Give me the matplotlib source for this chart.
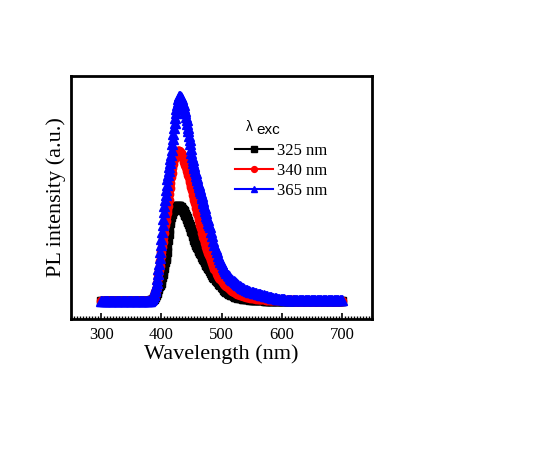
import numpy as np
import matplotlib
matplotlib.use("Agg")
import matplotlib.pyplot as plt
from matplotlib.ticker import MultipleLocator

# longueurs d'onde (nm) : pas de 2 nm sur la ligne de base, 1 nm autour du pic
longueurs = np.concatenate([np.arange(300, 380, 2),
                            np.arange(380, 481, 1),
                            np.arange(482, 701, 2)])

# intensites (u.a., pic bleu ~ 1)
base = [0.0] * 40  # 300 -> 378 nm

pic_325 = [
    0.000, 0.001, 0.002, 0.003, 0.004, 0.006, 0.008, 0.011, 0.014, 0.018,
    0.023, 0.030, 0.040, 0.050, 0.060, 0.068, 0.075, 0.080, 0.084, 0.088,
    0.100, 0.115, 0.130, 0.145, 0.160, 0.175, 0.190, 0.202, 0.214, 0.240,
    0.265, 0.295, 0.325, 0.352, 0.379, 0.395, 0.410, 0.420, 0.430, 0.437,
    0.443, 0.448, 0.452, 0.455, 0.457, 0.459, 0.460, 0.461, 0.461, 0.461,
    0.460, 0.458, 0.455, 0.452, 0.448, 0.444, 0.440, 0.435, 0.430, 0.424,
    0.418, 0.412, 0.405, 0.398, 0.390, 0.382, 0.374, 0.366, 0.358, 0.350,
    0.342, 0.333, 0.324, 0.315, 0.305, 0.294, 0.286, 0.279, 0.273, 0.267,
    0.262, 0.256, 0.250, 0.245, 0.239, 0.233, 0.227, 0.222, 0.216, 0.211,
    0.205, 0.199, 0.193, 0.188, 0.182, 0.176, 0.170, 0.165, 0.159, 0.154,
    0.148,
]
queue_325 = [
    0.136, 0.126, 0.118, 0.110, 0.104, 0.097, 0.091, 0.084, 0.076, 0.068,
    0.062, 0.055, 0.050, 0.045, 0.040, 0.036, 0.033, 0.030, 0.027, 0.024,
    0.022, 0.020, 0.018, 0.016, 0.015, 0.014, 0.013, 0.012, 0.011, 0.010,
    0.009, 0.008, 0.008, 0.007, 0.006, 0.006, 0.005, 0.005, 0.004, 0.004,
    0.004, 0.003, 0.003, 0.003, 0.003, 0.002, 0.002, 0.002, 0.002, 0.002,
    0.002, 0.001, 0.001, 0.001, 0.001, 0.001, 0.001, 0.001, 0.001, 0.001,
] + [0.001] * 10 + [0.0] * 40

pic_340 = [
    0.000, 0.001, 0.002, 0.004, 0.006, 0.009, 0.013, 0.018, 0.024, 0.032,
    0.042, 0.055, 0.070, 0.090, 0.110, 0.130, 0.150, 0.172, 0.195, 0.218,
    0.240, 0.262, 0.285, 0.307, 0.330, 0.350, 0.370, 0.390, 0.410, 0.427,
    0.444, 0.460, 0.490, 0.520, 0.550, 0.575, 0.600, 0.623, 0.645, 0.663,
    0.680, 0.690, 0.700, 0.708, 0.715, 0.720, 0.725, 0.727, 0.728, 0.728,
    0.727, 0.724, 0.720, 0.715, 0.709, 0.702, 0.695, 0.686, 0.677, 0.668,
    0.659, 0.650, 0.640, 0.630, 0.620, 0.610, 0.600, 0.588, 0.576, 0.564,
    0.552, 0.540, 0.528, 0.515, 0.502, 0.490, 0.478, 0.465, 0.452, 0.440,
    0.428, 0.416, 0.404, 0.392, 0.380, 0.368, 0.356, 0.344, 0.332, 0.321,
    0.310, 0.300, 0.290, 0.280, 0.270, 0.260, 0.250, 0.241, 0.232, 0.223,
    0.214,
]
queue_340 = [
    0.198, 0.183, 0.169, 0.156, 0.144, 0.133, 0.123, 0.114, 0.106, 0.099,
    0.092, 0.085, 0.079, 0.073, 0.067, 0.062, 0.057, 0.053, 0.049, 0.045,
    0.042, 0.039, 0.036, 0.033, 0.031, 0.029, 0.027, 0.025, 0.023, 0.022,
    0.020, 0.019, 0.018, 0.017, 0.016, 0.015, 0.014, 0.013, 0.012, 0.011,
    0.010, 0.010, 0.009, 0.009, 0.008, 0.008, 0.007, 0.007, 0.006, 0.006,
    0.005, 0.005, 0.005, 0.004, 0.004, 0.004, 0.003, 0.003, 0.003, 0.003,
] + [0.003] * 10 + [0.002] * 20 + [0.001] * 20

pic_365 = [
    0.000, 0.002, 0.004, 0.006, 0.010, 0.015, 0.020, 0.027, 0.035, 0.047,
    0.060, 0.073, 0.087, 0.108, 0.130, 0.155, 0.180, 0.210, 0.240, 0.270,
    0.300, 0.335, 0.370, 0.400, 0.430, 0.460, 0.490, 0.515, 0.540, 0.565,
    0.590, 0.610, 0.630, 0.650, 0.670, 0.690, 0.710, 0.735, 0.760, 0.785,
    0.810, 0.838, 0.865, 0.888, 0.910, 0.930, 0.950, 0.965, 0.980, 0.990,
    0.995, 0.995, 0.992, 0.987, 0.980, 0.971, 0.961, 0.950, 0.938, 0.924,
    0.910, 0.894, 0.877, 0.860, 0.842, 0.823, 0.803, 0.782, 0.760, 0.738,
    0.716, 0.698, 0.684, 0.670, 0.657, 0.644, 0.631, 0.619, 0.607, 0.595,
    0.585, 0.575, 0.565, 0.555, 0.545, 0.534, 0.522, 0.510, 0.498, 0.486,
    0.474, 0.462, 0.450, 0.438, 0.426, 0.414, 0.402, 0.391, 0.380, 0.369,
    0.358,
]
queue_365 = [
    0.336, 0.314, 0.293, 0.272, 0.252, 0.236, 0.221, 0.206, 0.191, 0.178,
    0.166, 0.155, 0.145, 0.136, 0.128, 0.120, 0.113, 0.107, 0.102, 0.097,
    0.092, 0.087, 0.082, 0.077, 0.073, 0.069, 0.065, 0.061, 0.058, 0.055,
    0.052, 0.050, 0.048, 0.046, 0.044, 0.042, 0.040, 0.039, 0.038, 0.036,
    0.035, 0.033, 0.031, 0.030, 0.028, 0.026, 0.025, 0.023, 0.021, 0.020,
    0.018, 0.017, 0.015, 0.014, 0.013, 0.012, 0.011, 0.010, 0.009, 0.008,
    0.008, 0.008, 0.007, 0.007, 0.007, 0.006, 0.006, 0.006, 0.006, 0.005,
] + [0.005] * 10 + [0.004] * 20 + [0.003] * 10

pl_325 = base + pic_325 + queue_325
pl_340 = base + pic_340 + queue_340
pl_365 = base + pic_365 + queue_365

etiquettes = ["325 nm", "340 nm", "365 nm"]
couleurs = ["black", "red", "blue"]
marqueurs = ["s", "o", "^"]
tailles = [6, 6, 6.5]

plt.rcParams['font.family'] = ['Liberation Serif', 'DejaVu Serif']

fig = plt.figure(figsize=(5.57, 4.58), dpi=100)
ax = fig.add_axes([0.1275, 0.3035, 0.5405, 0.5306])

for serie, lab, c, m, t in zip([pl_325, pl_340, pl_365], etiquettes, couleurs,
                               marqueurs, tailles):
    ax.plot(longueurs, serie, color=c, marker=m, markersize=t, linewidth=1.5,
            label=lab)

ax.set_xlim(250, 750)
ax.set_ylim(-0.087, 1.092)
ax.xaxis.set_major_locator(MultipleLocator(100))
ax.xaxis.set_minor_locator(MultipleLocator(5))
ax.set_yticks([])
ax.tick_params(axis='x', which='major', direction='in', length=4, width=1.2,
               labelsize=12, pad=6)
ax.tick_params(axis='x', which='minor', direction='in', length=2, width=1)
for sp in ax.spines.values():
    sp.set_linewidth(2)

ax.set_xlabel("Wavelength (nm)", fontsize=16, labelpad=1)
ax.set_ylabel("PL intensity (a.u.)", fontsize=16, labelpad=3.5)

leg = ax.legend(loc='upper left', bbox_to_anchor=(0.4219, 0.688),
                bbox_transform=fig.transFigure, frameon=False, fontsize=12,
                handlelength=2.3, handletextpad=0.2, labelspacing=0.25,
                borderpad=0, borderaxespad=0, markerscale=0.7, numpoints=1)

fig.text(246 / 557, 1 - 127 / 458, "λ", fontsize=10, family='Liberation Sans',
         va='center', ha='left')
fig.text(256 / 557, 1 - 130 / 458, "exc", fontsize=11, family='Liberation Sans',
         va='center', ha='left')

fig.savefig("out.png", dpi=100)
